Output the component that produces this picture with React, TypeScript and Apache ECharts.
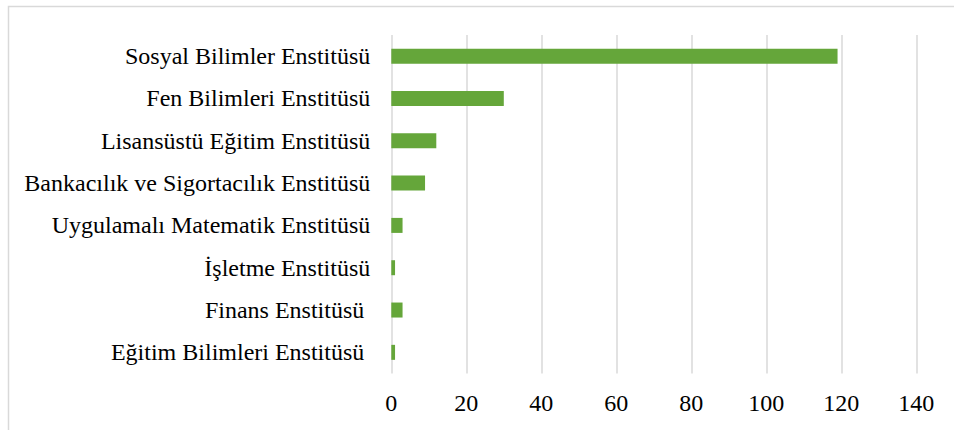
import React, { useEffect, useRef } from "react";
import * as echarts from "echarts";

const categories = [
  "Sosyal Bilimler Enstitüsü",
  "Fen Bilimleri Enstitüsü",
  "Lisansüstü Eğitim Enstitüsü",
  "Bankacılık ve Sigortacılık Enstitüsü",
  "Uygulamalı Matematik Enstitüsü",
  "İşletme Enstitüsü",
  "Finans Enstitüsü ",
  "Eğitim Bilimleri Enstitüsü ",
];
const values = [119, 30, 12, 9, 3, 1, 3, 1];
const xTicks = { min: 0, max: 140, interval: 20 };

export default function App() {
  const ref = useRef<HTMLDivElement>(null);
  useEffect(() => {
    if (!ref.current) return;
    const chart = echarts.init(ref.current, undefined, { renderer: "svg" });
    const font = "Liberation Serif";
    chart.setOption({
      animation: false,
      backgroundColor: "#ffffff",
      textStyle: { fontFamily: font },
      grid: { left: 391.3, top: 35, width: 525, height: 338.5, containLabel: false },
      xAxis: {
        type: "value",
        min: xTicks.min,
        max: xTicks.max,
        interval: xTicks.interval,
        axisLine: { show: false },
        axisTick: { show: false },
        axisLabel: { color: "#000", fontSize: 24, fontFamily: font, margin: 17 },
        splitLine: { show: true, lineStyle: { color: "#d9d9d9", width: 1.5 } },
      },
      yAxis: {
        type: "category",
        inverse: true,
        data: categories,
        axisLine: { show: false },
        axisTick: { show: false },
        axisLabel: { color: "#000", fontSize: 24, fontFamily: font, margin: 21 },
      },
      series: [
        {
          type: "bar",
          data: values,
          barWidth: 15,
          itemStyle: { color: "#65a63a" },
        },
      ],
      graphic: [
        {
          type: "rect",
          shape: { x: 8.5, y: 6.5, width: 1000, height: 500 },
          style: { fill: "none", stroke: "#d9d9d9", lineWidth: 1.5 },
          silent: true,
        },
      ],
    });
    return () => chart.dispose();
  }, []);
  return (
    <div
      ref={ref}
      style={{ position: "absolute", left: 0, top: 0, width: 954, height: 430 }}
    />
  );
}
